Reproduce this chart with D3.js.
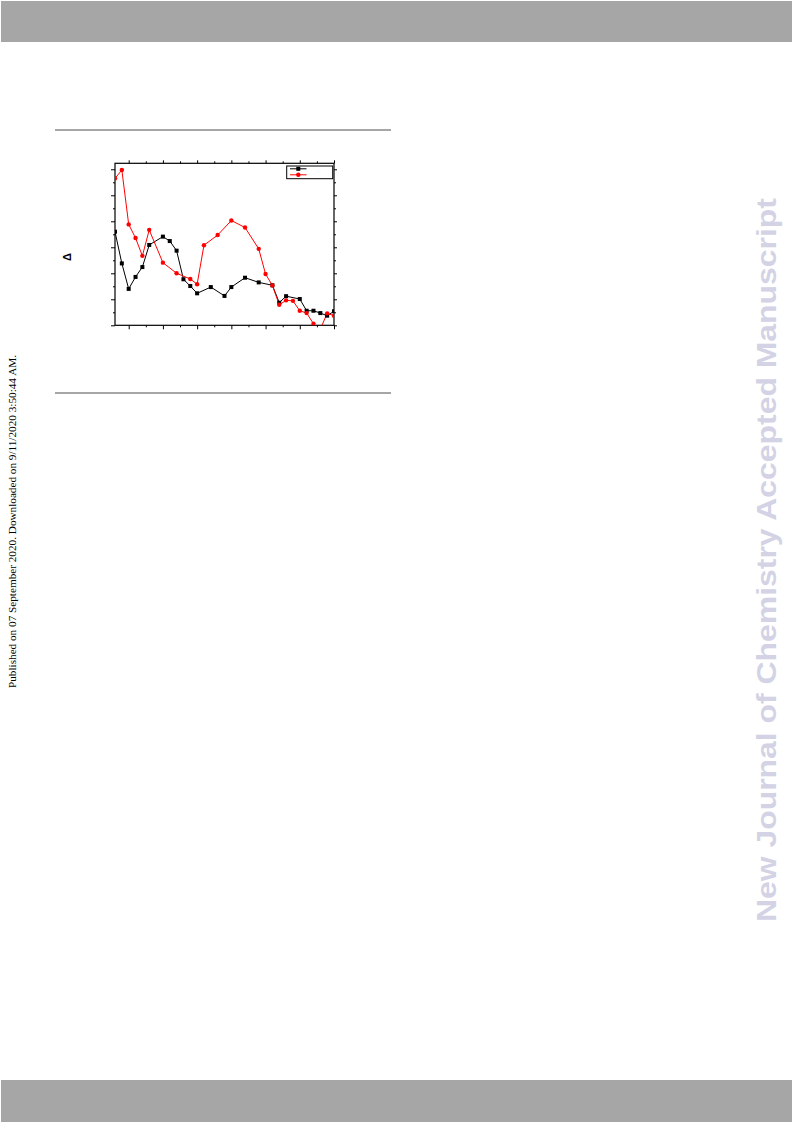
<!DOCTYPE html>
<html><head><meta charset="utf-8">
<script src="https://cdn.jsdelivr.net/npm/d3@7"></script>
<style>body{margin:0;background:#fff}svg{display:block}</style>
</head><body>
<script>
// data (x = sample index, y in axis units)
const blackX = [0,1,2,3,4,5,7,8,9,10,11,12,14,16,17,19,21,23,24,25,27,28,29,30,31,32];
const blackY = [3.60,2.38,1.40,1.86,2.24,3.09,3.41,3.24,2.87,1.77,1.51,1.23,1.47,1.13,1.47,1.83,1.65,1.54,0.87,1.12,1.01,0.56,0.56,0.47,0.37,0.54];
const redX = [0,1,2,3,4,5,7,9,11,12,13,15,17,19,21,22,23,24,25,26,27,28,29,30,31,32];
const redY = [5.65,5.97,3.88,3.36,2.67,3.67,2.41,2.0,1.78,1.58,3.08,3.47,4.03,3.76,2.94,1.97,1.53,0.79,0.96,0.94,0.56,0.47,0.06,-0.15,0.46,0.37];
const xMajor = [2,7,12,17,22,27,32];
const xMinor = [4.5,9.5,14.5,19.5,24.5,29.5];
const yMajor = [0,1,2,3,4,5,6];
const yMinor = [0.5,1.5,2.5,3.5,4.5,5.5];
const yLabel = "Δ";
const sideNote = "Published on 07 September 2020. Downloaded on 9/11/2020 3:50:44 AM.";
const watermark = "New Journal of Chemistry Accepted Manuscript";

const W=793,H=1123;
const svg=d3.select("body").append("svg").attr("width",W).attr("height",H);

// header/footer bars
svg.append("rect").attr("x",1).attr("y",1).attr("width",791).attr("height",41).attr("fill","#a6a6a6");
svg.append("rect").attr("x",1).attr("y",1080).attr("width",791).attr("height",42).attr("fill","#a6a6a6");
// rules
svg.append("rect").attr("x",55).attr("y",129).attr("width",336).attr("height",2).attr("fill","#a6a6a6");
svg.append("rect").attr("x",55).attr("y",392).attr("width",336).attr("height",2).attr("fill","#a6a6a6");

// side note
svg.append("text").attr("transform","translate(16,521.5) rotate(-90)")
  .attr("text-anchor","middle").attr("font-family","Liberation Serif").attr("font-size",11)
  .attr("fill","#000").attr("textLength",333).attr("lengthAdjust","spacingAndGlyphs").text(sideNote);
// watermark
svg.append("text").attr("transform","translate(776,560) rotate(-90)")
  .attr("text-anchor","middle").attr("font-family","Liberation Sans").attr("font-weight","bold")
  .attr("font-size",27).attr("fill","#d3d3e5").attr("textLength",724).attr("lengthAdjust","spacingAndGlyphs")
  .text(watermark);

const L=115,R=334,T=163.3,B=325.3;
const x=d3.scaleLinear().domain([0,32]).range([L,R]);
const y=d3.scaleLinear().domain([0,6.23]).range([B,T]);

const g=svg.append("g");
// axes
function ax(axisGen, tx, ty, vals, len){
  const a=g.append("g").attr("transform",`translate(${tx},${ty})`)
    .call(axisGen.tickValues(vals).tickSize(len).tickFormat(""));
  a.select(".domain").remove();
  a.selectAll("line").attr("stroke","#000").attr("stroke-width",1);
}
ax(d3.axisBottom(x),0,B,xMajor,4); ax(d3.axisBottom(x),0,B,xMinor,2);
ax(d3.axisTop(x),0,T,xMajor,3); ax(d3.axisTop(x),0,T,xMinor,2);
ax(d3.axisLeft(y),L,0,yMajor,4); ax(d3.axisLeft(y),L,0,yMinor,2);
ax(d3.axisRight(y),R,0,yMajor,3); ax(d3.axisRight(y),R,0,yMinor,2);
g.append("rect").attr("x",L).attr("y",T).attr("width",R-L).attr("height",B-T)
  .attr("fill","none").attr("stroke","#000").attr("stroke-width",1.2);

svg.append("defs").append("clipPath").attr("id","clip").append("rect")
  .attr("x",L).attr("y",T).attr("width",R-L).attr("height",B-T);
const plot=svg.append("g").attr("clip-path","url(#clip)");
const line=d3.line().x(d=>x(d[0])).y(d=>y(d[1]));
const black=blackX.map((v,i)=>[v,blackY[i]]);
const red=redX.map((v,i)=>[v,redY[i]]);
plot.append("path").datum(black).attr("d",line).attr("fill","none").attr("stroke","#000").attr("stroke-width",1);
plot.append("path").datum(red).attr("d",line).attr("fill","none").attr("stroke","#ff0000").attr("stroke-width",1);
plot.selectAll(".sq").data(black).enter().append("rect")
  .attr("x",d=>x(d[0])-2).attr("y",d=>y(d[1])-2).attr("width",4).attr("height",4).attr("fill","#000");
plot.selectAll(".ci").data(red).enter().append("circle")
  .attr("cx",d=>x(d[0])).attr("cy",d=>y(d[1])).attr("r",2.2).attr("fill","#ff0000");

// legend
const lg=svg.append("g");
lg.append("rect").attr("x",286.7).attr("y",166).attr("width",46).attr("height",12.7)
  .attr("fill","#fff").attr("stroke","#000").attr("stroke-width",1);
lg.append("line").attr("x1",290).attr("x2",306.5).attr("y1",168.8).attr("y2",168.8).attr("stroke","#000");
lg.append("rect").attr("x",296.3).attr("y",166.8).attr("width",4).attr("height",4).attr("fill","#000");
lg.append("line").attr("x1",290).attr("x2",306.5).attr("y1",174.8).attr("y2",174.8).attr("stroke","#ff0000");
lg.append("circle").attr("cx",298.3).attr("cy",174.8).attr("r",2.2).attr("fill","#ff0000");

// y label
svg.append("text").attr("transform","translate(71,257) rotate(-90)")
  .attr("text-anchor","middle").attr("font-family","Liberation Sans").attr("font-weight","bold")
  .attr("font-size",11).attr("fill","#000").text(yLabel);
</script>
</body></html>
